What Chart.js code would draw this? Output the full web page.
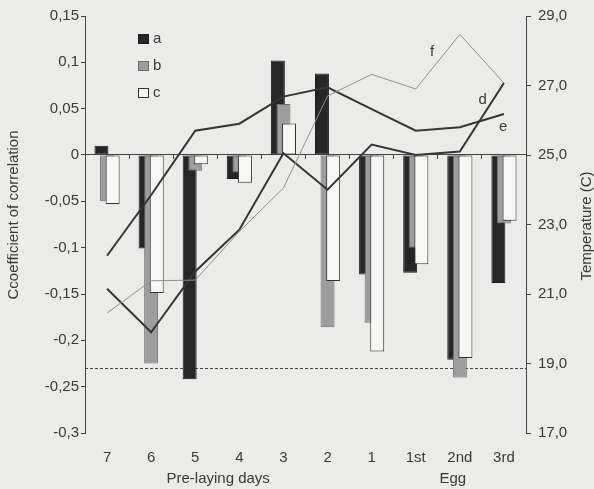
<!DOCTYPE html>
<html><head><meta charset="utf-8">
<script src="https://cdn.jsdelivr.net/npm/chart.js@4.4.1/dist/chart.umd.min.js"></script>
<style>html,body{margin:0;padding:0;background:#ebebe9;}#wrap{width:594px;height:489px;}</style>
</head><body><div id="wrap"><canvas id="c" width="594" height="489"></canvas></div>
<script>
// ---- data ----
const categories = ['7','6','5','4','3','2','1','1st','2nd','3rd'];
const seriesA = [0.010, -0.101, -0.242, -0.026, 0.102, 0.088, -0.129, -0.127, -0.221, -0.138];
const seriesB = [-0.050, -0.225, -0.017, -0.019, 0.055, -0.186, -0.181, -0.100, -0.240, -0.074];
const seriesC = [-0.053, -0.149, -0.010, -0.030, 0.034, -0.136, -0.212, -0.118, -0.219, -0.071];
const tempD = [21.15, 19.90, 21.65, 22.85, 25.05, 24.00, 25.30, 25.00, 25.10, 27.07];
const tempE = [22.10, 23.85, 25.70, 25.90, 26.68, 26.95, 26.32, 25.70, 25.80, 26.18];
const tempF = [20.45, 21.38, 21.40, 22.80, 24.05, 26.70, 27.32, 26.90, 28.47, 27.07];
const yLeftTicks = [-0.3, -0.25, -0.2, -0.15, -0.1, -0.05, 0, 0.05, 0.1, 0.15];
const yLeftTickLabels = ['-0,3','-0,25','-0,2','-0,15','-0,1','-0,05','0','0,05','0,1','0,15'];
const yRightTicks = [17, 19, 21, 23, 25, 27, 29];
const yRightTickLabels = ['17,0','19,0','21,0','23,0','25,0','27,0','29,0'];
const thresholdValue = -0.23;
const groupLabels = ['Pre-laying days', 'Egg'];
const leftTitle = 'Ccoefficient of correlation';
const rightTitle = 'Temperature (C)';

// ---- layout / style ----
const FONT = "'Liberation Sans', Arial, sans-serif";
const TXT = '#3a3a3a';
const groupLabelAt = [2.52, 7.84];           // category index positions
const lineLabelAt = { d: [8.52, 26.6], e: [8.98, 25.8], f: [7.37, 27.98] };

const ds = [
  {type:'bar', label:'a', data:seriesA, backgroundColor:'#262626', borderColor:'#1c1c1c', borderWidth:1},
  {type:'bar', label:'b', data:seriesB, backgroundColor:'#9d9d9d', borderColor:'#6e6e6e', borderWidth:1},
  {type:'bar', label:'c', data:seriesC, backgroundColor:'#f6f6f4', borderColor:'#333333', borderWidth:1},
  {type:'line', label:'d', data:tempD, yAxisID:'y1', borderColor:'#353535', borderWidth:2, pointRadius:0, tension:0, fill:false},
  {type:'line', label:'e', data:tempE, yAxisID:'y1', borderColor:'#353535', borderWidth:2, pointRadius:0, tension:0, fill:false},
  {type:'line', label:'f', data:tempF, yAxisID:'y1', borderColor:'#8e8e8e', borderWidth:1, pointRadius:0, tension:0, fill:false}
];
ds.forEach(d => { d.xAxisID = 'x'; if (d.type === 'bar') { d.yAxisID = 'y'; d.categoryPercentage = 0.38; d.barPercentage = 2.5; d.borderSkipped = false; } });

const drawOrder = {
  id: 'drawOrder',
  beforeDatasetDraw() { return false; },
  afterDatasetsDraw(chart) {
    const ctx = chart.ctx, a = chart.chartArea;
    ctx.save();
    ctx.beginPath(); ctx.rect(a.left, a.top - 2, a.right - a.left, a.bottom - a.top + 4); ctx.clip();
    [0,1,2,3,4,5].forEach(i => { const m = chart.getDatasetMeta(i); if (!m.hidden) m.controller.draw(); });
    ctx.restore();
  }
};

const overlay = {
  id: 'overlay',
  beforeDatasetsDraw(chart) {
    const {ctx, chartArea:a, scales} = chart;
    const py = Math.round(scales.y.getPixelForValue(thresholdValue)) + 0.5;
    ctx.save();
    ctx.strokeStyle = '#444'; ctx.lineWidth = 1; ctx.setLineDash([3, 2]);
    ctx.beginPath(); ctx.moveTo(a.left, py); ctx.lineTo(a.right, py); ctx.stroke();
    ctx.restore();
  },
  afterDatasetsDraw(chart) {
    const {ctx, chartArea:a, scales} = chart;
    ctx.save();
    ctx.font = '15px ' + FONT; ctx.fillStyle = TXT; ctx.textBaseline = 'middle'; ctx.textAlign = 'left';
    // legend
    const bars = chart.data.datasets.filter(d => d.type === 'bar');
    bars.forEach((d, i) => {
      const x = a.left + 53, y = a.top + 18 + i * 27;
      ctx.fillStyle = d.backgroundColor; ctx.fillRect(x, y, 11, 10);
      ctx.strokeStyle = d.borderColor; ctx.lineWidth = 1; ctx.strokeRect(x + 0.5, y + 0.5, 10, 9);
      ctx.fillStyle = TXT; ctx.fillText(d.label, x + 15, y + 5);
    });
    // line labels
    ctx.textAlign = 'center';
    chart.data.datasets.filter(d => d.type === 'line').forEach(d => {
      const p = lineLabelAt[d.label];
      ctx.fillText(d.label, scales.x.getPixelForValue(p[0]), scales.y1.getPixelForValue(p[1]));
    });
    ctx.restore();
  },
  afterDraw(chart) {
    const {ctx, chartArea:a, scales} = chart;
    ctx.save();
    ctx.font = '15px ' + FONT; ctx.fillStyle = TXT; ctx.textAlign = 'center'; ctx.textBaseline = 'middle';
    groupLabels.forEach((t, i) => ctx.fillText(t, scales.x.getPixelForValue(groupLabelAt[i]), 479));
    ctx.save(); ctx.translate(14, 215); ctx.rotate(-Math.PI/2); ctx.fillText(leftTitle, 0, 0); ctx.restore();
    ctx.save(); ctx.translate(587, 226); ctx.rotate(-Math.PI/2); ctx.fillText(rightTitle, 0, 0); ctx.restore();
    ctx.restore();
  }
};

new Chart(document.getElementById('c'), {
  data: { labels: categories, datasets: ds },
  options: {
    responsive: false, animation: false, devicePixelRatio: 1,
    layout: { padding: { top: 15, left: 0, right: 0, bottom: 0 } },
    plugins: { legend: { display: false }, tooltip: { enabled: false } },
    scales: {
      x: {
        type: 'category', position: 'bottom', offset: true,
        grid: { display: false, drawTicks: false, offset: true }, border: { display: false },
        ticks: { padding: 16, color: TXT, font: { size: 15, family: FONT }, maxRotation: 0, autoSkip: false },
        afterFit(s) { s.height = 56; }
      },
      x2: {
        type: 'category', axis: 'x', position: { y: 0 }, offset: true,
        grid: { offset: true, drawOnChartArea: false, drawTicks: true, tickLength: 4, color: '#444' },
        border: { display: true, color: '#444', width: 1 },
        ticks: { display: false }
      },
      y: {
        type: 'linear', position: 'left', min: -0.3, max: 0.15,
        afterBuildTicks(s) { s.ticks = yLeftTicks.map(v => ({ value: v })); },
        ticks: { callback: (v, i) => yLeftTickLabels[i], padding: 2, color: TXT, font: { size: 15, family: FONT } },
        grid: { drawOnChartArea: false, drawTicks: true, tickLength: 4, color: '#444' },
        border: { display: true, color: '#444', width: 1 },
        afterFit(s) { s.width = 85; }
      },
      y1: {
        type: 'linear', position: 'right', min: 17, max: 29,
        afterBuildTicks(s) { s.ticks = yRightTicks.map(v => ({ value: v })); },
        ticks: { callback: (v, i) => yRightTickLabels[i], padding: 7, color: TXT, font: { size: 15, family: FONT } },
        grid: { drawOnChartArea: false, drawTicks: true, tickLength: 5, color: '#444' },
        border: { display: true, color: '#444', width: 1 },
        afterFit(s) { s.width = 68; }
      }
    }
  },
  plugins: [drawOrder, overlay]
});
</script></body></html>
